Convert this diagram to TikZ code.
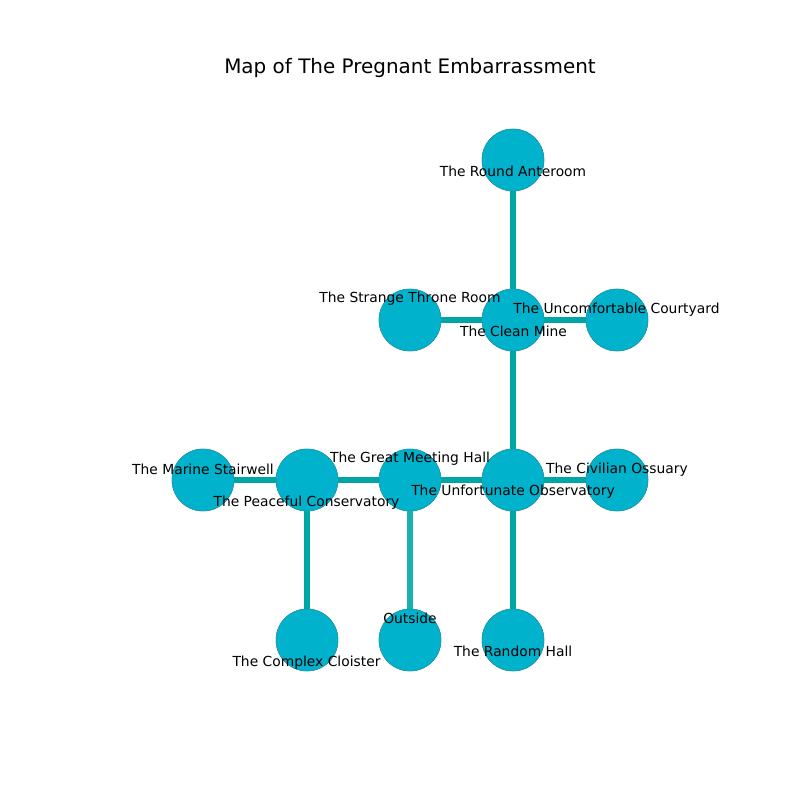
\documentclass[tikz,border=0pt]{standalone}
\usepackage{fontspec}
\setmainfont{DejaVu Sans}
\begin{document}
\begin{tikzpicture}[x=0.01in,y=-0.01in,
  room/.style={circle,draw={rgb,255:red,40;green,140;blue,160},line width=0.3pt,fill={rgb,255:red,0;green,178;blue,204},minimum size=0.62in,inner sep=0pt},
  lbl/.style={font=\fontsize{10}{12}\selectfont,inner sep=0pt,anchor=center,yshift=-1.5*0.01in},
  link/.style={draw={rgb,255:red,0;green,166;blue,166},line width=3.8pt},
  linklight/.style={draw={rgb,255:red,26;green,176;blue,176},line width=3.8pt}]
\useasboundingbox (0,0) rectangle (800,800);
\fill[white] (0,0) rectangle (800,800);
\node[font=\fontsize{14.4}{17}\selectfont] (title) at (410,68.5) {Map of The Pregnant Embarrassment};
% rooms
\node[room] (ra) at (513,160) {};
\node[room] (cm) at (513,320) {};
\node[room] (st) at (410,320) {};
\node[room] (uc) at (617,320) {};
\node[room] (uo) at (513,480) {};
\node[room] (gm) at (410,480) {};
\node[room] (pc) at (307,480) {};
\node[room] (ms) at (203,480) {};
\node[room] (co) at (617,480) {};
\node[room] (cc) at (307,640) {};
\node[room] (ou) at (410,640) {};
\node[room] (rh) at (513,640) {};
% connectors
\path[link] (ra.center) -- (cm.center);
\path[link] (cm.center) -- (st.center);
\path[link] (cm.center) -- (uc.center);
\path[link] (cm.center) -- (uo.center);
\path[link] (uo.center) -- (gm.center);
\path[link] (uo.center) -- (co.center);
\path[link] (uo.center) -- (rh.center);
\path[link] (gm.center) -- (pc.center);
\path[linklight] (gm.center) -- (ou.center);
\path[link] (pc.center) -- (ms.center);
\path[link] (pc.center) -- (cc.center);
% redraw rooms on top of connectors
\foreach \n/\x/\y in {ra/513/160,cm/513/320,st/410/320,uc/617/320,uo/513/480,gm/410/480,pc/307/480,ms/203/480,co/617/480,cc/307/640,ou/410/640,rh/513/640}
  \node[room] at (\x,\y) {};
% labels
\node[lbl] (lra) at (513,170) {The Round Anteroom};
\node[lbl] (lcm) at (513.5,330) {The Clean Mine};
\node[lbl] (lst) at (410,297) {The Strange Throne Room};
\node[lbl] (luc) at (616.5,308) {The Uncomfortable Courtyard};
\node[lbl] (lgm) at (410,457) {The Great Meeting Hall};
\node[lbl] (luo) at (513,490) {The Unfortunate Observatory};
\node[lbl] (lpc) at (306.5,501) {The Peaceful Conservatory};
\node[lbl] (lms) at (203,468) {The Marine Stairwell};
\node[lbl] (lco) at (617,468) {The Civilian Ossuary};
\node[lbl] (lcc) at (306.5,661) {The Complex Cloister};
\node[lbl] (lou) at (410,617) {Outside};
\node[lbl] (lrh) at (513,650) {The Random Hall};
\end{tikzpicture}
\end{document}
